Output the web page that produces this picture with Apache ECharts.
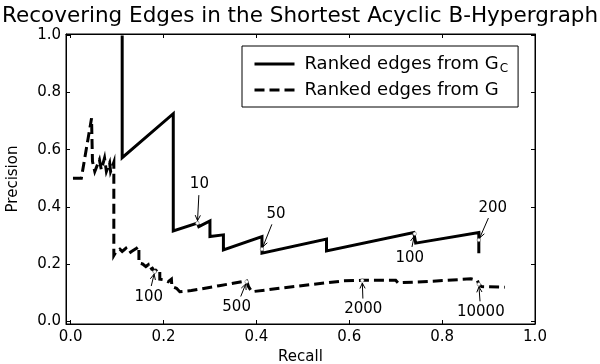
<!DOCTYPE html>
<html>
<head>
<meta charset="utf-8">
<script src="https://cdn.jsdelivr.net/npm/echarts@6/dist/echarts.min.js"></script>
<style>
  html, body { margin: 0; padding: 0; background: #fff; }
  #chart { width: 600px; height: 364px; }
</style>
</head>
<body>
<div id="chart"></div>
<script>
// ranked edges from G_C (solid)
const gcRecall = [0.111, 0.111, 0.221, 0.221, 0.273, 0.276, 0.300, 0.300, 0.329, 0.329, 0.412, 0.412, 0.551, 0.551, 0.739, 0.743, 0.879, 0.879]
const gcPrecision = [1.0, 0.572, 0.726, 0.316, 0.343, 0.331, 0.351, 0.296, 0.302, 0.249, 0.296, 0.238, 0.287, 0.246, 0.310, 0.273, 0.310, 0.238]

// ranked edges from G (dashed)
const gRecall = [0.005, 0.023, 0.045, 0.047, 0.052, 0.062, 0.066, 0.073, 0.077, 0.084, 0.086, 0.093, 0.093, 0.098, 0.106, 0.111, 0.119, 0.126, 0.131, 0.142, 0.147, 0.147, 0.155, 0.162, 0.167, 0.170, 0.176, 0.181, 0.186, 0.192, 0.192, 0.203, 0.210, 0.217, 0.218, 0.228, 0.235, 0.260, 0.320, 0.379, 0.383, 0.390, 0.450, 0.523, 0.588, 0.628, 0.700, 0.705, 0.780, 0.862, 0.876, 0.879, 0.885, 0.935]
const gPrecision = [0.5, 0.5, 0.71, 0.559, 0.524, 0.565, 0.530, 0.571, 0.524, 0.554, 0.524, 0.556, 0.23, 0.244, 0.252, 0.244, 0.255, 0.238, 0.244, 0.255, 0.261, 0.203, 0.2, 0.191, 0.197, 0.179, 0.185, 0.173, 0.182, 0.179, 0.147, 0.144, 0.138, 0.147, 0.121, 0.115, 0.103, 0.107, 0.124, 0.141, 0.121, 0.103, 0.115, 0.129, 0.141, 0.143, 0.143, 0.134, 0.140, 0.148, 0.142, 0.129, 0.121, 0.119]

// annotated ranks
const annLabel = ['10', '50', '100', '200', '100', '500', '2000', '10000']
const annRecall = [0.273, 0.412, 0.741, 0.879, 0.181, 0.379, 0.628, 0.879]
const annPrecision = [0.343, 0.252, 0.306, 0.284, 0.173, 0.138, 0.142, 0.129]
// text offset from the point, px
const annOffset = [[2, -39], [14, -35], [-5, 24], [14, -32], [-6, 25], [-10, 25], [1, 29], [2, 28]]

const tickValues = [0, 0.2, 0.4, 0.6, 0.8, 1.0]
const seriesNames = ['Ranked edges from G_C', 'Ranked edges from G']

const FONT = 'DejaVu Sans'
const chart = echarts.init(document.getElementById('chart'), null, { renderer: 'canvas' })

const axisCommon = (pos, isX, showLabel) => ({
  type: 'value',
  position: pos,
  min: -0.01,
  max: isX ? 1.0 : 1.005,
  axisLine: { show: true, onZero: false, lineStyle: { color: '#000', width: 1 } },
  axisTick: { show: true, inside: true, length: 4, customValues: tickValues, lineStyle: { color: '#000' } },
  axisLabel: {
    show: showLabel,
    customValues: tickValues,
    formatter: (v) => v.toFixed(1),
    color: '#000',
    fontFamily: FONT,
    fontSize: 15,
    margin: isX ? 6 : 5
  },
  splitLine: { show: false }
})

const option = {
  animation: false,
  backgroundColor: '#fff',
  title: {
    text: 'Recovering Edges in the Shortest Acyclic B-Hypergraph',
    left: 2,
    top: 5,
    padding: 0,
    textStyle: { color: '#000', fontFamily: FONT, fontSize: 21.5, fontWeight: 'normal' }
  },
  grid: {
    left: 66, top: 34, width: 469, height: 290,
    outerBoundsMode: 'none',
    show: true, borderColor: '#000', borderWidth: 1, backgroundColor: '#fff'
  },
  legend: {
    orient: 'vertical',
    left: 242,
    top: 46,
    padding: [7, 10, 7, 11],
    borderColor: '#000',
    borderWidth: 1,
    backgroundColor: '#fff',
    itemWidth: 40,
    itemHeight: 14,
    itemGap: 5,
    itemStyle: { opacity: 0 },
    lineStyle: { width: 3 },
    data: seriesNames,
    formatter: (name) => name === seriesNames[0] ? '{a|Ranked edges from G}{s|C}' : '{a|' + name + '}',
    textStyle: {
      color: '#000',
      fontFamily: FONT,
      fontSize: 18,
      lineHeight: 20,
      padding: [0, 0, 0, 5],
      rich: {
        a: { fontFamily: FONT, fontSize: 18, lineHeight: 20, color: '#000' },
        s: { fontFamily: FONT, fontSize: 12, lineHeight: 10, color: '#000', padding: [10, 0, 0, 1] }
      }
    }
  },
  xAxis: [
    Object.assign(axisCommon('bottom', true, true), {
      name: 'Recall',
      nameLocation: 'middle',
      nameGap: 24,
      nameTextStyle: { color: '#000', fontFamily: FONT, fontSize: 15 }
    }),
    axisCommon('top', true, false)
  ],
  yAxis: [
    Object.assign(axisCommon('left', false, true), {
      name: 'Precision',
      nameLocation: 'middle',
      nameGap: 45,
      nameTextStyle: { color: '#000', fontFamily: FONT, fontSize: 15 }
    }),
    axisCommon('right', false, false)
  ],
  series: [
    {
      name: seriesNames[0],
      type: 'line',
      symbol: 'none',
      data: gcRecall.map((r, i) => [r, gcPrecision[i]]),
      lineStyle: { color: '#000', width: 3, join: 'miter' },
      itemStyle: { color: '#000' },
      z: 3
    },
    {
      name: seriesNames[1],
      type: 'line',
      symbol: 'none',
      data: gRecall.map((r, i) => [r, gPrecision[i]]),
      lineStyle: { color: '#000', width: 3, type: [10, 5], cap: 'butt', join: 'miter' },
      itemStyle: { color: '#000' },
      z: 2
    }
  ]
}
chart.setOption(option)

// arrows + labels for the annotated ranks
const elements = []
annLabel.forEach((label, i) => {
  const [px, py] = chart.convertToPixel({ xAxisIndex: 0, yAxisIndex: 0 }, [annRecall[i], annPrecision[i]])
  const [dx, dy] = annOffset[i]
  const tx = px + dx
  const ty = py + dy
  const len = Math.hypot(dx, dy)
  const ux = -dx / len
  const uy = -dy / len
  const x0 = tx + ux * 11
  const y0 = ty + uy * 11
  const x1 = px - ux * 2.5
  const y1 = py - uy * 2.5
  const ang = Math.atan2(y1 - y0, x1 - x0)
  const h = 6
  const a = Math.PI / 7
  elements.push({
    type: 'circle',
    z: 100,
    shape: { cx: px, cy: py, r: 1.8 },
    style: { fill: '#fff', stroke: '#666', lineWidth: 0.5 }
  })
  elements.push({
    type: 'line',
    z: 100,
    shape: { x1: x0, y1: y0, x2: x1, y2: y1 },
    style: { stroke: '#000', lineWidth: 1 }
  })
  elements.push({
    type: 'polyline',
    z: 100,
    shape: {
      points: [
        [x1 - h * Math.cos(ang - a), y1 - h * Math.sin(ang - a)],
        [x1, y1],
        [x1 - h * Math.cos(ang + a), y1 - h * Math.sin(ang + a)]
      ]
    },
    style: { stroke: '#000', fill: null, lineWidth: 1 }
  })
  elements.push({
    type: 'text',
    z: 100,
    x: tx,
    y: ty,
    style: {
      text: label,
      fill: '#000',
      fontFamily: FONT,
      fontSize: 15,
      align: 'center',
      verticalAlign: 'middle',
      textAlign: 'center',
      textVerticalAlign: 'middle'
    }
  })
})
chart.setOption({ graphic: { elements: elements } })
</script>
</body>
</html>
